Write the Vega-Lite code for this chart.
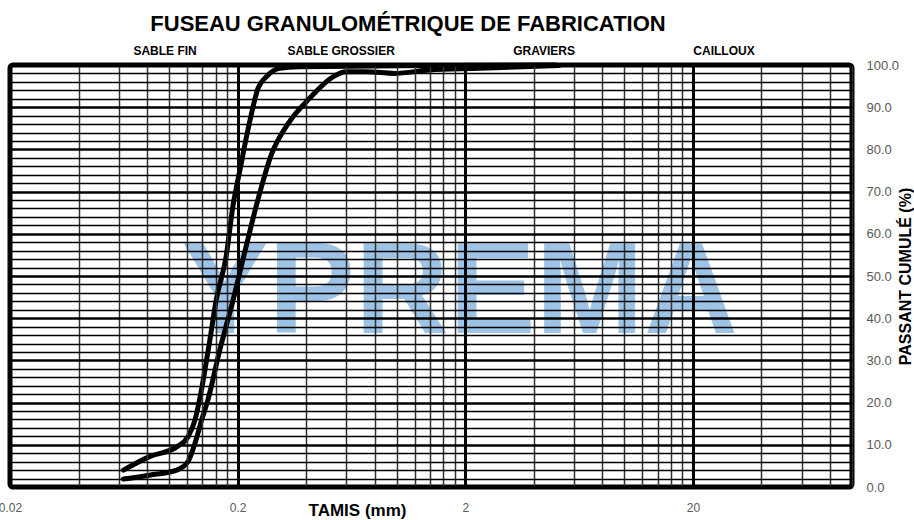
{
  "$schema": "https://vega.github.io/schema/vega-lite/v6.json",
  "width": 842,
  "height": 422,
  "autosize": {"type": "none"},
  "padding": {"left": 10, "top": 65, "right": 62, "bottom": 33},
  "background": "white",
  "title": {
    "text": "FUSEAU GRANULOMÉTRIQUE DE FABRICATION",
    "font": "Liberation Sans",
    "fontSize": 22,
    "fontWeight": "bold",
    "color": "black",
    "anchor": "middle",
    "frame": "group",
    "dx": -23,
    "offset": 9
  },
  "config": {
    "view": {"stroke": "black", "strokeWidth": 5, "cornerRadius": 3}
  },
  "encoding": {
    "x": {
      "field": "tamis",
      "type": "quantitative",
      "scale": {"type": "log", "domain": [0.02, 100], "nice": false},
      "axis": {
        "orient": "bottom",
        "zindex": 1,
        "values": [0.02, 0.04, 0.06, 0.08, 0.1, 0.12, 0.14, 0.16, 0.18, 0.2, 0.4, 0.6, 0.8, 1, 1.2, 1.4, 1.6, 1.8, 2, 4, 6, 8, 10, 12, 14, 16, 18, 20, 40, 60, 80, 100],
        "grid": true,
        "gridColor": {"condition": {"test": "datum.value == 0.02 || datum.value == 0.2 || datum.value == 2 || datum.value == 20", "value": "black"}, "value": "#333333"},
        "gridWidth": {"condition": {"test": "datum.value == 0.02 || datum.value == 0.2 || datum.value == 2 || datum.value == 20", "value": 3}, "value": 1.5},
        "gridOpacity": 1,
        "domain": false,
        "ticks": false,
        "labelExpr": "(datum.value == 0.02 || datum.value == 0.2 || datum.value == 2 || datum.value == 20) ? toString(datum.value) : ''",
        "labelFont": "Liberation Sans",
        "labelFontSize": 12,
        "labelColor": "#595959",
        "labelPadding": 15,
        "labelOverlap": false,
        "labelFlush": false,
        "title": "TAMIS (mm)",
        "titleFont": "Liberation Sans",
        "titleFontSize": 17,
        "titleFontWeight": "bold",
        "titleColor": "black",
        "titleX": 347,
        "titleY": 23,
        "titleAlign": "center",
        "titleBaseline": "middle"
      }
    },
    "y": {
      "field": "passant",
      "type": "quantitative",
      "scale": {"domain": [0, 100], "nice": false},
      "axis": {
        "orient": "right",
        "zindex": 1,
        "values": [0, 2, 4, 6, 8, 10, 12, 14, 16, 18, 20, 22, 24, 26, 28, 30, 32, 34, 36, 38, 40, 42, 44, 46, 48, 50, 52, 54, 56, 58, 60, 62, 64, 66, 68, 70, 72, 74, 76, 78, 80, 82, 84, 86, 88, 90, 92, 94, 96, 98, 100],
        "grid": true,
        "gridColor": "black",
        "gridWidth": {"condition": {"test": "datum.value % 10 === 0", "value": 2.4}, "value": 1.3},
        "gridOpacity": 1,
        "domain": false,
        "ticks": false,
        "labelExpr": "datum.value % 10 === 0 ? format(datum.value, '.1f') : ''",
        "labelFont": "Liberation Sans",
        "labelFontSize": 13,
        "labelColor": "#595959",
        "labelPadding": 14,
        "labelOverlap": false,
        "labelFlush": false,
        "title": "PASSANT CUMULÉ (%)",
        "titleFont": "Liberation Sans",
        "titleFontSize": 16,
        "titleFontWeight": "bold",
        "titleColor": "black",
        "titleAngle": 270,
        "titleX": 53,
        "titleY": 211,
        "titleAlign": "center",
        "titleBaseline": "middle"
      }
    }
  },
  "layer": [
    {
      "data": {"values": [{"tamis": 1.89, "passant": 36.5, "label": "YPREMA"}]},
      "mark": {"type": "text", "font": "Liberation Sans", "fontSize": 130, "fontWeight": "bold", "color": "#9DC3E6", "align": "center", "baseline": "alphabetic"},
      "encoding": {"text": {"field": "label"}}
    },
    {
      "data": {"values": [
        {"tamis": 0.096, "passant": 103.2, "label": "SABLE FIN"},
        {"tamis": 0.57, "passant": 103.2, "label": "SABLE GROSSIER"},
        {"tamis": 4.44, "passant": 103.2, "label": "GRAVIERS"},
        {"tamis": 27.4, "passant": 103.2, "label": "CAILLOUX"}
      ]},
      "mark": {"type": "text", "font": "Liberation Sans", "fontSize": 12, "fontWeight": "bold", "color": "black", "align": "center", "baseline": "middle", "clip": false},
      "encoding": {"text": {"field": "label"}}
    },
    {
      "data": {"values": [
        {"courbe": "sup", "tamis": 0.063, "passant": 4.0},
        {"courbe": "sup", "tamis": 0.082, "passant": 7.2},
        {"courbe": "sup", "tamis": 0.108, "passant": 9.5},
        {"courbe": "sup", "tamis": 0.121, "passant": 11.9},
        {"courbe": "sup", "tamis": 0.130, "passant": 15.9},
        {"courbe": "sup", "tamis": 0.136, "passant": 20.6},
        {"courbe": "sup", "tamis": 0.151, "passant": 34.8},
        {"courbe": "sup", "tamis": 0.161, "passant": 44.3},
        {"courbe": "sup", "tamis": 0.178, "passant": 54.6},
        {"courbe": "sup", "tamis": 0.191, "passant": 66.8},
        {"courbe": "sup", "tamis": 0.204, "passant": 74.7},
        {"courbe": "sup", "tamis": 0.226, "passant": 86.6},
        {"courbe": "sup", "tamis": 0.246, "passant": 94.5},
        {"courbe": "sup", "tamis": 0.267, "passant": 97.2},
        {"courbe": "sup", "tamis": 0.306, "passant": 99.2},
        {"courbe": "sup", "tamis": 0.374, "passant": 99.6},
        {"courbe": "sup", "tamis": 1.0, "passant": 99.8},
        {"courbe": "sup", "tamis": 5.0, "passant": 100},
        {"courbe": "inf", "tamis": 0.063, "passant": 1.9},
        {"courbe": "inf", "tamis": 0.082, "passant": 2.8},
        {"courbe": "inf", "tamis": 0.108, "passant": 4.0},
        {"courbe": "inf", "tamis": 0.121, "passant": 6.0},
        {"courbe": "inf", "tamis": 0.130, "passant": 10.4},
        {"courbe": "inf", "tamis": 0.139, "passant": 15.9},
        {"courbe": "inf", "tamis": 0.148, "passant": 20.6},
        {"courbe": "inf", "tamis": 0.167, "passant": 32.5},
        {"courbe": "inf", "tamis": 0.191, "passant": 44.3},
        {"courbe": "inf", "tamis": 0.215, "passant": 55.7},
        {"courbe": "inf", "tamis": 0.242, "passant": 66.8},
        {"courbe": "inf", "tamis": 0.281, "passant": 78.7},
        {"courbe": "inf", "tamis": 0.338, "passant": 86.6},
        {"courbe": "inf", "tamis": 0.414, "passant": 92.1},
        {"courbe": "inf", "tamis": 0.524, "passant": 97.2},
        {"courbe": "inf", "tamis": 0.600, "passant": 98.4},
        {"courbe": "inf", "tamis": 0.734, "passant": 98.4},
        {"courbe": "inf", "tamis": 0.977, "passant": 98.0},
        {"courbe": "inf", "tamis": 1.39, "passant": 98.8},
        {"courbe": "inf", "tamis": 2.30, "passant": 99.2},
        {"courbe": "inf", "tamis": 5.17, "passant": 99.9}
      ]},
      "mark": {"type": "line", "color": "black", "strokeWidth": 5, "strokeCap": "round", "strokeJoin": "round", "interpolate": "monotone", "zindex": 2},
      "encoding": {"detail": {"field": "courbe"}}
    }
  ]
}
